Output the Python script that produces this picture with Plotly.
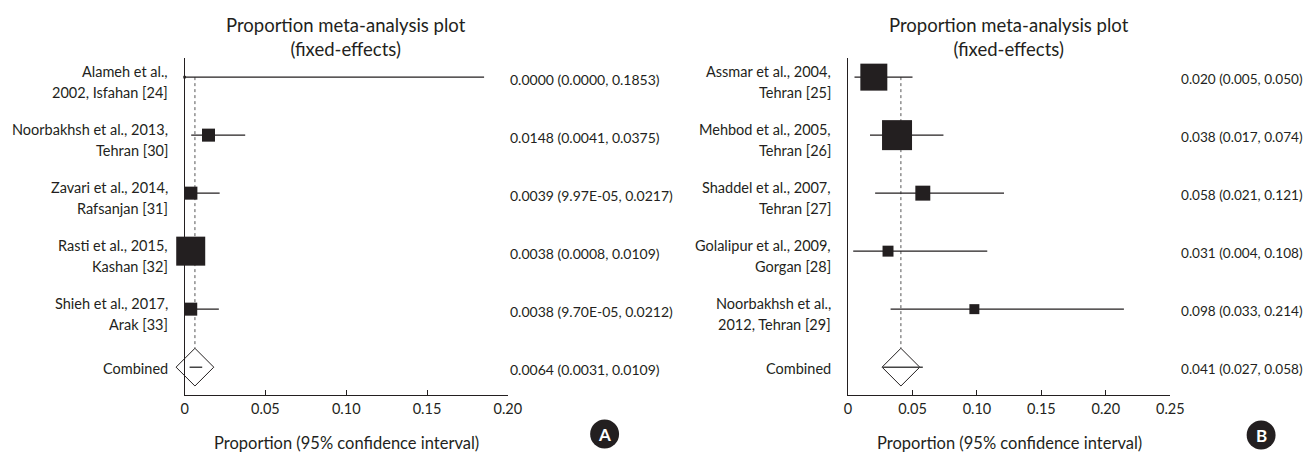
import plotly.graph_objects as go

W, H = 1304, 452          # reference picture size
FIG_W = 1319              # rendered css width (compensates horizontal viewport scaling)
INK = "#231f20"
FONT = "Lato"

# ---------------- data ----------------
studies_a = ["Alameh et al.,<br>2002, Isfahan [24]",
             "Noorbakhsh et al., 2013,<br>Tehran [30]",
             "Zavari et al., 2014,<br>Rafsanjan [31]",
             "Rasti et al., 2015,<br>Kashan [32]",
             "Shieh et al., 2017,<br>Arak [33]"]
est_a = [0.0000, 0.0148, 0.0039, 0.0038, 0.0038]
lo_a = [0.0000, 0.0041, 9.97e-05, 0.0008, 9.70e-05]
hi_a = [0.1853, 0.0375, 0.0217, 0.0109, 0.0212]
weight_a = [0.5, 12.5, 12.5, 62.0, 12.5]
comb_a = [0.0064, 0.0031, 0.0109]

studies_b = ["Assmar et al., 2004,<br>Tehran [25]",
             "Mehbod et al., 2005,<br>Tehran [26]",
             "Shaddel et al., 2007,<br>Tehran [27]",
             "Golalipur et al., 2009,<br>Gorgan [28]",
             "Noorbakhsh et al.,<br>2012, Tehran [29]"]
est_b = [0.020, 0.038, 0.058, 0.031, 0.098]
lo_b = [0.005, 0.017, 0.021, 0.004, 0.033]
hi_b = [0.050, 0.074, 0.121, 0.108, 0.214]
weight_b = [35.1, 43.4, 10.8, 5.8, 4.8]
comb_b = [0.041, 0.027, 0.058]

ticks_a = [0, 0.05, 0.10, 0.15, 0.20]
ticktext_a = ["0", "0.05", "0.10", "0.15", "0.20"]
ticks_b = [0, 0.05, 0.10, 0.15, 0.20, 0.25]
ticktext_b = ["0", "0.05", "0.10", "0.15", "0.20", "0.25"]

# ---------------- helpers ----------------
def fmt_a(v):
    if 0 < v < 0.0005:
        return f"{v:.2E}"
    return f"{v:.4f}"

def fmt_b(v):
    return f"{v:.3f}"

fig = go.Figure()

def panel(xa, ya, studies, est, lo, hi, weight, comb, fmt, max_size, xmax, val_shift, val_size):
    n = len(studies)
    rows = [n - i for i in range(n)]
    wmax = max(weight)
    sizes = [max_size * (w / wmax) ** 0.5 for w in weight]
    fig.add_trace(go.Scatter(x=[comb[0], comb[0]], y=[rows[0], 0.32], mode="lines",
                             line=dict(color="#555555", width=1, dash="dot"),
                             xaxis=xa, yaxis=ya, hoverinfo="skip", showlegend=False))
    cx, cy = [], []
    for r, l, h in zip(rows, lo, hi):
        cx += [l, h, None]
        cy += [r, r, None]
    fig.add_trace(go.Scatter(x=cx, y=cy, mode="lines", line=dict(color=INK, width=1.2),
                             xaxis=xa, yaxis=ya, cliponaxis=False, showlegend=False))
    fig.add_trace(go.Scatter(x=est, y=rows, mode="markers",
                             marker=dict(symbol="square", size=sizes, color=INK, opacity=1,
                                         line=dict(width=0)),
                             xaxis=xa, yaxis=ya, cliponaxis=False, showlegend=False))
    fig.add_trace(go.Scatter(x=[comb[0]], y=[0], mode="markers",
                             marker=dict(symbol="diamond", size=29, color="white", opacity=1,
                                         line=dict(color=INK, width=1)),
                             xaxis=xa, yaxis=ya, cliponaxis=False, showlegend=False))
    fig.add_trace(go.Scatter(x=[comb[1], comb[2]], y=[0, 0], mode="lines",
                             line=dict(color="#444444", width=1.5),
                             xaxis=xa, yaxis=ya, cliponaxis=False, showlegend=False))
    # study labels: each line placed separately for wider line spacing
    lab_font = dict(family=FONT, size=14.5, color=INK)
    for r, s in zip(rows, studies):
        for line, shift in zip(s.split("<br>"), [6, -15]):
            fig.add_annotation(x=0, y=r, xref=xa, yref=ya, text=line, showarrow=False,
                               xanchor="right", yanchor="middle", xshift=-15, yshift=shift,
                               font=lab_font)
    fig.add_annotation(x=0, y=0, xref=xa, yref=ya, text="Combined", showarrow=False,
                       xanchor="right", yanchor="middle", xshift=-15, yshift=-1, font=lab_font)
    vals = [f"{fmt(e)} ({fmt(l)}, {fmt(h)})" for e, l, h in zip(est, lo, hi)]
    vals.append(f"{fmt(comb[0])} ({fmt(comb[1])}, {fmt(comb[2])})")
    for r, v in zip(rows + [0], vals):
        fig.add_annotation(x=xmax, y=r, xref=xa, yref=ya, text=v, showarrow=False,
                           xanchor="left", yanchor="middle", xshift=val_shift, yshift=-2,
                           font=dict(family=FONT, size=val_size, color=INK))
    fig.add_annotation(x=xmax / 2, y=1 - 37 / H, xref=xa, yref="paper",
                       text="Proportion meta-analysis plot<br>(fixed-effects)", showarrow=False,
                       xanchor="center", yanchor="middle",
                       font=dict(family=FONT, size=18.5, color=INK))
    fig.add_annotation(x=xmax / 2, y=1 - 443 / H, xref=xa, yref="paper",
                       text="Proportion (95% confidence interval)", showarrow=False,
                       xanchor="center", yanchor="middle",
                       font=dict(family=FONT, size=16.5, color=INK))

panel("x", "y", studies_a, est_a, lo_a, hi_a, weight_a, comb_a, fmt_a, 29, 0.20, 0, 14)
panel("x2", "y2", studies_b, est_b, lo_b, hi_b, weight_b, comb_b, fmt_b, 30, 0.25, 9, 13.6)

ydom = [1 - 395 / H, 1 - 58 / H]
yr = [-0.48, 5.33]
axis_common = dict(showline=True, linecolor=INK, linewidth=1.4, showgrid=False, zeroline=False,
                   ticks="inside", ticklen=5, tickwidth=1.2, tickcolor=INK,
                   tickfont=dict(family=FONT, size=14.5, color=INK), fixedrange=True)
yaxis_common = dict(showline=True, linecolor=INK, linewidth=1.4, showgrid=False, zeroline=False,
                    showticklabels=False, ticks="", range=yr, domain=ydom, fixedrange=True)

fig.update_layout(
    width=FIG_W, height=H, margin=dict(l=0, r=0, t=0, b=0),
    paper_bgcolor="white", plot_bgcolor="white", showlegend=False,
    xaxis=dict(domain=[181 / W, 505 / W], range=[0, 0.20], tickvals=ticks_a, ticktext=ticktext_a,
               anchor="y", **axis_common),
    yaxis=dict(anchor="x", **yaxis_common),
    xaxis2=dict(domain=[846 / W, 1169 / W], range=[0, 0.25], tickvals=ticks_b, ticktext=ticktext_b,
                anchor="y2", **axis_common),
    yaxis2=dict(anchor="x2", **yaxis_common),
)

for letter, cx, cy in [("A", 602, 434), ("B", 1260, 435)]:
    r = 14.5
    fig.add_shape(type="circle", xref="paper", yref="paper",
                  x0=(cx - r) / W, x1=(cx + r) / W, y0=1 - (cy + r) / H, y1=1 - (cy - r) / H,
                  fillcolor=INK, line=dict(width=0))
    fig.add_annotation(x=cx / W, y=1 - cy / H, xref="paper", yref="paper", text=f"<b>{letter}</b>",
                       showarrow=False, xanchor="center", yanchor="middle",
                       font=dict(family=FONT, size=17, color="white"))

fig.write_html("out.html", config={"displayModeBar": False},
               post_script="document.body.style.margin='0';")
